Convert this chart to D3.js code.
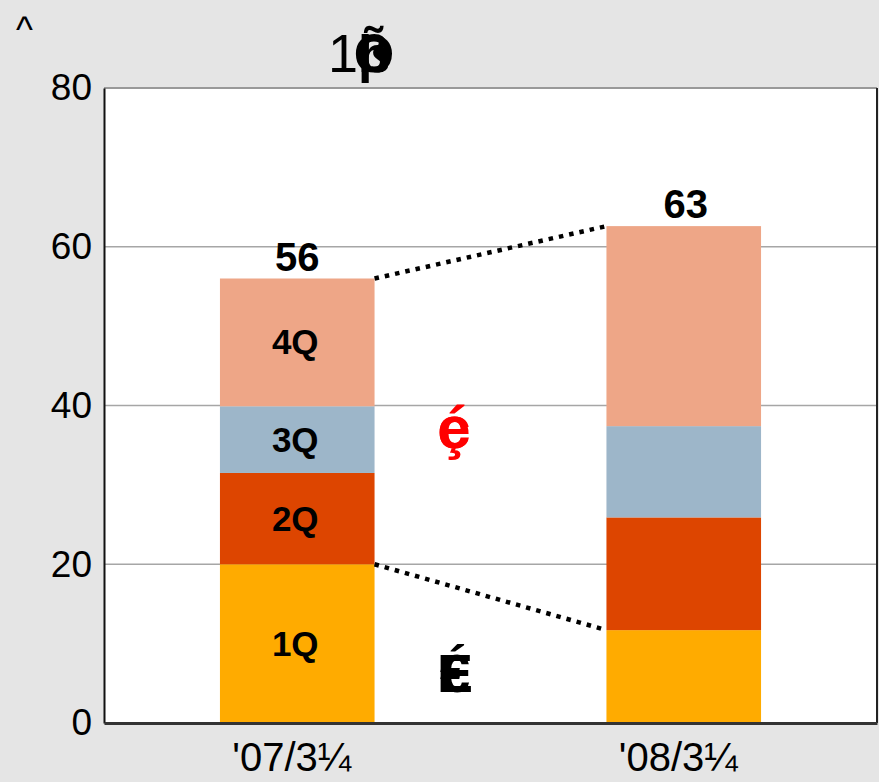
<html><head>
<script src="https://d3js.org/d3.v7.min.js"></script>
<style>
  body { margin: 0; background: #e5e5e5; }
  svg text { font-family: "Liberation Sans", Arial, sans-serif; }
</style>
</head>
<body>
<div id="chart"></div>
<script>
  // chart values
  const categories = ["'07/3¼", "'08/3¼"];
  const quarters = ["1Q", "2Q", "3Q", "4Q"];
  const q1 = [20, 11.7];
  const q2 = [11.5, 14.2];
  const q3 = [8.4, 11.5];
  const q4 = [16.1, 25.2];
  const totals = [56, 63];
  const yTicks = [0, 20, 40, 60, 80];
  const colors = ["#ffab00", "#dd4500", "#9db6c9", "#eea687"];

  const width = 879, height = 782;
  const margin = { top: 88, right: 2, bottom: 59, left: 104 };
  const chartWidth = width - margin.left - margin.right;
  const chartHeight = height - margin.top - margin.bottom;

  const svg = d3.select("#chart").append("svg")
                .attr("width", width)
                .attr("height", height);
  svg.append("rect").attr("width", width).attr("height", height).attr("fill", "#e5e5e5");

  const g = svg.append("g").attr("transform", "translate(" + margin.left + "," + margin.top + ")");
  g.append("rect").attr("width", chartWidth).attr("height", chartHeight).attr("fill", "#fff");

  const xScale = d3.scalePoint().domain(categories).range([0, chartWidth]).padding(0.5);
  const barW = xScale.step() * 0.4;
  const yScale = d3.scaleLinear().domain([0, 80]).range([chartHeight, 0]);

  // grid lines
  g.selectAll(".grid").data(yTicks.filter(d => d > 0 && d < 80)).join("line")
   .attr("x1", 0).attr("x2", chartWidth)
   .attr("y1", d => yScale(d)).attr("y2", d => yScale(d))
   .attr("stroke", "#a6a6a6").attr("stroke-width", 1.5);

  // stacked bars
  const rows = categories.map((c, i) => ({ cat: c, "1Q": q1[i], "2Q": q2[i], "3Q": q3[i], "4Q": q4[i] }));
  const stacked = d3.stack().keys(quarters)(rows);

  stacked.forEach((layer, li) => {
    g.selectAll(".bar" + li).data(layer).join("rect")
     .attr("x", d => xScale(d.data.cat) - barW / 2)
     .attr("width", barW)
     .attr("y", d => yScale(d[1]))
     .attr("height", d => yScale(d[0]) - yScale(d[1]))
     .attr("fill", colors[li]);
    // quarter label only on first bar
    const d0 = layer[0];
    g.append("text")
     .attr("x", xScale(categories[0]) - 2)
     .attr("y", yScale((d0[0] + d0[1]) / 2) + 12)
     .attr("text-anchor", "middle")
     .attr("font-size", 35).attr("font-weight", "bold")
     .text(quarters[li]);
  });

  // totals
  g.selectAll(".tot").data(totals).join("text")
   .attr("x", (d, i) => xScale(categories[i]) + i * 2)
   .attr("y", (d, i) => yScale(d3.sum(stacked, l => l[i][1] - l[i][0])) - 8)
   .attr("text-anchor", "middle")
   .attr("font-size", 40).attr("font-weight", "bold")
   .text(d => d);

  // dotted connectors
  const stackTop = i => yScale(stacked[3][i][1]);
  const q1Top = i => yScale(stacked[0][i][1]);
  const xa = xScale(categories[0]) + barW / 2, xb = xScale(categories[1]) - barW / 2;
  [[stackTop(0), stackTop(1)], [q1Top(0), q1Top(1)]].forEach(p => {
    g.append("line")
     .attr("x1", xa).attr("y1", p[0]).attr("x2", xb).attr("y2", p[1])
     .attr("stroke", "#000").attr("stroke-width", 4.5)
     .attr("stroke-dasharray", "4.5 6");
  });

  // plot frame
  g.append("line").attr("x1", 0).attr("x2", chartWidth).attr("y1", 0).attr("y2", 0)
   .attr("stroke", "#999").attr("stroke-width", 2);
  g.append("line").attr("x1", chartWidth).attr("x2", chartWidth).attr("y1", 0).attr("y2", chartHeight)
   .attr("stroke", "#222").attr("stroke-width", 2);

  // axes
  const yAxis = d3.axisLeft(yScale).tickValues(yTicks).tickSize(0).tickPadding(12);
  const ya = g.append("g").call(yAxis);
  ya.select(".domain").attr("stroke", "#111").attr("stroke-width", 2);
  ya.selectAll("text").attr("font-size", 37).attr("fill", "#000")
    .attr("font-family", "Liberation Sans, Arial, sans-serif");

  const xAxis = d3.axisBottom(xScale).tickSize(0).tickPadding(20);
  const xa2 = g.append("g").attr("transform", "translate(0," + chartHeight + ")").call(xAxis);
  xa2.select(".domain").attr("stroke", "#333").attr("stroke-width", 3);
  xa2.selectAll("text").attr("font-size", 40).attr("fill", "#000")
     .attr("dx", -6)
     .attr("font-family", "Liberation Sans, Arial, sans-serif");

  // garbled labels from the source
  svg.append("text").attr("x", 16).attr("y", 42).attr("font-size", 36).text("^");
  svg.append("text").attr("x", 328).attr("y", 72).attr("font-size", 54).text("1");
  ["Õ", "ß", "þ"].forEach(ch => {
    svg.append("text").attr("x", 374).attr("y", 72).attr("text-anchor", "middle")
       .attr("font-size", 52).attr("font-weight", "bold").text(ch);
  });
  ["é", "ç"].forEach(ch => {
    svg.append("text").attr("x", 454).attr("y", 448).attr("text-anchor", "middle")
       .attr("font-size", 60).attr("font-weight", "bold").attr("fill", "#ff0000").text(ch);
  });
  ["É", "€"].forEach(ch => {
    svg.append("text").attr("x", 455).attr("y", 692).attr("text-anchor", "middle")
       .attr("font-size", 54).attr("font-weight", "bold").text(ch);
  });
</script>
</body>
</html>
